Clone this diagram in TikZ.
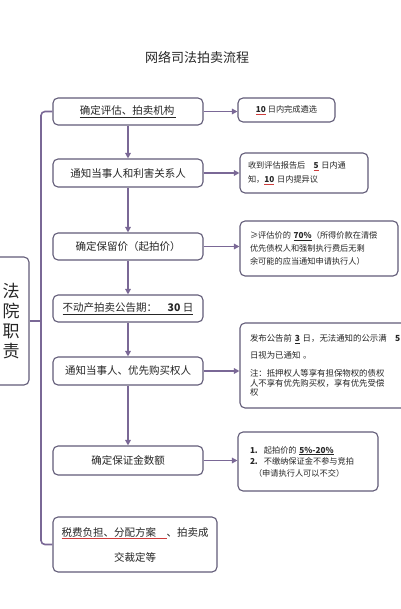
\documentclass[tikz,border=0pt]{standalone}
\usepackage{fontspec}
\setmainfont{Noto Sans CJK SC}
\usetikzlibrary{arrows.meta, positioning, calc}
\definecolor{flowline}{RGB}{122,104,150}
\definecolor{flowedge}{RGB}{98,92,120}
\definecolor{spellred}{RGB}{205,60,60}
\newcommand{\redul}[1]{\textcolor{spellred}{\underline{\textcolor{black!85}{#1}}}}
\tikzset{
  base/.style={
    draw=flowedge, line width=1.1pt, rounded corners=5pt,
    fill=white, text=black!85, inner sep=2pt,
  },
  stepbox/.style={base, minimum width=150pt, minimum height=27pt,
                  align=center, font=\fontsize{10.5}{12}\selectfont},
  notebox/.style={base, inner xsep=8pt, align=left,
                  font=\fontsize{8.2}{12}\selectfont},
  arr/.style    ={-{Triangle[length=5.5pt,width=5.5pt]}, line width=1.6pt, flowline},
  spine/.style  ={line width=1.6pt, flowline, rounded corners=4pt},
}

\begin{document}
\begin{tikzpicture}[x=1pt, y=-1pt]

\fill[white] (0,0) rectangle (400,609);
\useasboundingbox (0,0) rectangle (400,609);

%% title
\node[font=\fontsize{13}{15}\selectfont, text=black!85] (title) at (197,57)
  {网络司法拍卖流程};

%% ------------------------------------------------------------
%%  main steps (centre column)
%% ------------------------------------------------------------
\node[stepbox] (evalorg)  at (128,111.5) {\underline{确定评估、拍卖机构\,}};
\node[stepbox, minimum height=28pt] (notify) at (128,173) {通知当事人和利害关系人};
\node[stepbox] (reserve)  at (128,246.5) {确定保留价（起拍价）};
\node[stepbox] (notice)   at (128,308.5) {\underline{不动产拍卖公告期：\quad \textbf{30} 日}};
\node[stepbox, minimum height=28pt] (priority) at (128,371) {通知当事人、优先购买权人};
\node[stepbox, minimum height=29pt] (deposit)  at (128,460.5) {确定保证金数额};
\node[stepbox, minimum width=164pt, minimum height=55pt,
      font=\fontsize{10.5}{25}\selectfont] (ruling) at (135,544.5)
  {\redul{税费负担、分配方案\quad}、拍卖成\\交裁定等};

% arrows down
\draw[arr] (evalorg.south) -- (notify.north);
\draw[arr] (notify.south)  -- (reserve.north);
\draw[arr] (reserve.south) -- (notice.north);
\draw[arr] (notice.south)  -- (priority.north);
\draw[arr] (priority.south) -- (deposit.north);

%% ------------------------------------------------------------
%%  notes (right column)
%% ------------------------------------------------------------
\node[notebox, align=center, minimum width=97pt, minimum height=24pt]
  (selnote) at (286.5,110) {\redul{\textbf{10}} 日内完成遴选};

\node[notebox, text width=112pt, minimum height=40pt,
      font=\fontsize{8.2}{14}\selectfont] (objnote) at (304,173)
  {收到评估报告后\quad\redul{\textbf{5}} 日内通\\
   知，\redul{\textbf{10}} 日内提异议};

\node[notebox, inner xsep=10pt, text width=138pt, minimum height=55pt,
      font=\fontsize{8.2}{13}\selectfont] (pricenote) at (319,248.5)
  {≥评估价的 \underline{\textbf{70\%}}（所得价款在清偿\\
   优先债权人和强制执行费后无剩\\
   余可能的应当通知申请执行人）};

\node[notebox, inner xsep=10pt, text width=170pt, minimum height=85pt,
      font=\fontsize{8.4}{9.6}\selectfont] (annnote) at (335,365.5)
  {发布公告前 \underline{\textbf{3}} 日，无法通知的公示满\quad\textbf{5}\\[7pt]
   日视为已通知 。\\[9pt]
   注：抵押权人等享有担保物权的债权\\
   人不享有优先购买权，享有优先受偿\\
   权};

\node[notebox, inner xsep=12pt, text width=116pt, minimum height=59pt,
      font=\fontsize{8.2}{11.5}\selectfont] (depnote) at (308,461.5)
  {\textbf{1.}\hspace{6pt}起拍价的 \underline{\textbf{5\%-20\%}}\\
   \textbf{2.}\hspace{6pt}不缴纳保证金不参与竞拍\\
   \hspace{4pt}（申请执行人可以不交）};

% arrows right
\draw[arr] (evalorg.east)  -- (evalorg.east -| selnote.west);
\draw[arr] (notify.east)   -- (notify.east -| objnote.west);
\draw[arr] (reserve.east)  -- (reserve.east -| pricenote.west);
\draw[arr] (priority.east) -- (priority.east -| annnote.west);
\draw[arr] (deposit.east)  -- (deposit.east -| depnote.west);

%% ------------------------------------------------------------
%%  court duties + spine
%% ------------------------------------------------------------
\node[base, minimum width=36pt, minimum height=128pt, align=center,
      font=\fontsize{17}{20}\selectfont] (court) at (11,321)
  {法\\院\\职\\责};

\coordinate (spinex) at (41,0);
\draw[spine] (evalorg.west) -- (evalorg.west -| spinex) |- (ruling.west);
\draw[spine] (court.east) -- (court.east -| spinex);

\end{tikzpicture}
\end{document}
